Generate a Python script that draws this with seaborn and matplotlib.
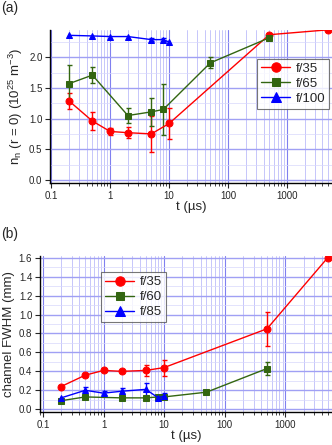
import numpy as np
import pandas as pd
import matplotlib
matplotlib.use('Agg')
import matplotlib.pyplot as plt
import seaborn as sns
from matplotlib.ticker import LogLocator, FixedLocator, NullFormatter, FuncFormatter

sns.set_style('white')
plt.rcParams['font.family'] = ['Liberation Sans', 'DejaVu Sans']
plt.rcParams['mathtext.default'] = 'regular'

# panel (a): density on axis
a35_t = [0.2, 0.5, 1, 2, 5, 10, 500, 5000]
a35_n = [1.29, 0.96, 0.79, 0.77, 0.75, 0.92, 2.37, 2.45]
a35_e = [0.13, 0.14, 0.05, 0.09, 0.30, 0.245, 0, 0]
a65_t = [0.2, 0.5, 2, 5, 8, 50, 500]
a65_n = [1.57, 1.71, 1.05, 1.11, 1.15, 1.91, 2.32]
a65_e = [0.30, 0.125, 0.13, 0.225, 0.41, 0.09, 0]
a100_t = [0.2, 0.5, 1, 2, 5, 8, 10]
a100_n = [2.36, 2.35, 2.34, 2.34, 2.29, 2.29, 2.25]
a100_e = [0, 0, 0, 0, 0.03, 0.03, 0]

# panel (b): channel FWHM
b35_t = [0.2, 0.5, 1, 2, 5, 10, 500, 5000]
b35_w = [0.24, 0.36, 0.41, 0.40, 0.41, 0.44, 0.85, 1.60]
b35_e = [0, 0, 0, 0, 0.06, 0.085, 0.18, 0]
b60_t = [0.2, 0.5, 2, 5, 8, 10, 50, 500]
b60_w = [0.09, 0.13, 0.12, 0.12, 0.13, 0.13, 0.18, 0.43]
b60_e = [0, 0, 0, 0, 0.02, 0, 0, 0.07]
b85_t = [0.2, 0.5, 1, 2, 5, 8, 10]
b85_w = [0.12, 0.20, 0.17, 0.19, 0.21, 0.12, 0.14]
b85_e = [0, 0.03, 0.02, 0.03, 0.07, 0.02, 0.03]

red = '#ff0000'
green = '#336611'
blue = '#0000ff'

fig = plt.figure(figsize=(3.32, 4.45), dpi=100)
ax1 = fig.add_axes([0.151, 0.589, 0.849, 0.344])
ax2 = fig.add_axes([0.120, 0.074, 0.880, 0.351])


def style_axis(ax, xlim, ylim, ymajor, yminor):
    ax.set_xscale('log')
    ax.set_xlim(*xlim)
    ax.set_ylim(*ylim)
    ax.xaxis.set_major_locator(FixedLocator([0.1, 1, 10, 100, 1000]))
    ax.xaxis.set_major_formatter(FuncFormatter(lambda v, p: '%g' % v))
    ax.xaxis.set_minor_locator(LogLocator(base=10, subs=np.arange(2, 10), numticks=20))
    ax.xaxis.set_minor_formatter(NullFormatter())
    ax.yaxis.set_major_locator(FixedLocator(ymajor))
    ax.yaxis.set_minor_locator(FixedLocator(yminor))
    ax.grid(True, which='major', axis='x', color='#8080f0', lw=0.8)
    ax.grid(True, which='minor', axis='x', color='#bdbdfa', lw=0.6)
    ax.grid(True, which='major', axis='y', color='#a0a0f4', lw=1.0)
    ax.grid(True, which='minor', axis='y', color='#d8d8fc', lw=0.5)
    ax.set_axisbelow(True)
    for s in ['top', 'right']:
        ax.spines[s].set_visible(False)
    for s in ['left', 'bottom']:
        ax.spines[s].set_color('black')
        ax.spines[s].set_linewidth(1.0)
    ax.tick_params(axis='both', which='major', direction='out', length=3.5, width=0.8,
                   labelsize=7, pad=2, left=True, bottom=True)
    ax.tick_params(axis='x', which='minor', direction='out', length=2, width=0.6, bottom=True)
    ax.tick_params(axis='y', which='minor', left=False)


def draw_series(ax, t, v, e, label, color, marker, ms):
    df = pd.DataFrame({'t': t, 'v': v})
    sns.lineplot(data=df, x='t', y='v', ax=ax, color=color, marker=marker, markersize=ms,
                 markeredgecolor=color, lw=1.0, label=label, zorder=3)
    tt = [x for x, err in zip(t, e) if err > 0]
    vv = [y for y, err in zip(v, e) if err > 0]
    ee = [err for err in e if err > 0]
    ax.errorbar(tt, vv, yerr=ee, fmt='none', ecolor=color, elinewidth=1.0, capsize=1.8,
                capthick=1.0, zorder=2)


draw_series(ax1, a35_t, a35_n, a35_e, 'f/35', red, 'o', 5)
draw_series(ax1, a65_t, a65_n, a65_e, 'f/65', green, 's', 4.6)
draw_series(ax1, a100_t, a100_n, a100_e, 'f/100', blue, '^', 5)
style_axis(ax1, (0.096, 5800), (-0.05, 2.45), [0.0, 0.5, 1.0, 1.5, 2.0],
           [0.25, 0.75, 1.25, 1.75, 2.25])
ax1.yaxis.set_major_formatter(FuncFormatter(lambda v, p: '%.1f' % v))
ax1.set_xlabel('t (µs)', fontsize=9.5, labelpad=0)
ax1.set_ylabel('n$_n$ (r = 0) (10$^{25}$ m$^{-3}$)', fontsize=9.5, labelpad=3)
leg1 = ax1.legend(loc='upper left', bbox_to_anchor=(0.735, 0.81), fontsize=9.5, frameon=True,
                  fancybox=False, edgecolor='#555555', borderpad=0.3, handlelength=2.2,
                  handletextpad=0.4, labelspacing=0.2, borderaxespad=0, markerscale=1.35)
leg1.get_frame().set_linewidth(0.8)

draw_series(ax2, b35_t, b35_w, b35_e, 'f/35', red, 'o', 5)
draw_series(ax2, b60_t, b60_w, b60_e, 'f/60', green, 's', 4.6)
draw_series(ax2, b85_t, b85_w, b85_e, 'f/85', blue, '^', 5)
style_axis(ax2, (0.089, 5900), (-0.03, 1.62), [0.0, 0.2, 0.4, 0.6, 0.8, 1.0, 1.2, 1.4, 1.6],
           [0.1, 0.3, 0.5, 0.7, 0.9, 1.1, 1.3, 1.5])
ax2.yaxis.set_major_formatter(FuncFormatter(lambda v, p: '%.1f' % v))
ax2.set_xlabel('t (µs)', fontsize=9.5, labelpad=0)
ax2.set_ylabel('channel FWHM (mm)', fontsize=9.5, labelpad=3)
leg2 = ax2.legend(loc='upper left', bbox_to_anchor=(0.21, 0.895), fontsize=9.5, frameon=True,
                  fancybox=False, edgecolor='#555555', borderpad=0.3, handlelength=2.2,
                  handletextpad=0.4, labelspacing=0.2, borderaxespad=0, markerscale=1.35)
leg2.get_frame().set_linewidth(0.8)

fig.text(0.003, 0.998, '(a)', fontsize=10, va='top', ha='left')
fig.text(0.003, 0.49, '(b)', fontsize=10, va='top', ha='left')

fig.savefig('out.png', dpi=100)
